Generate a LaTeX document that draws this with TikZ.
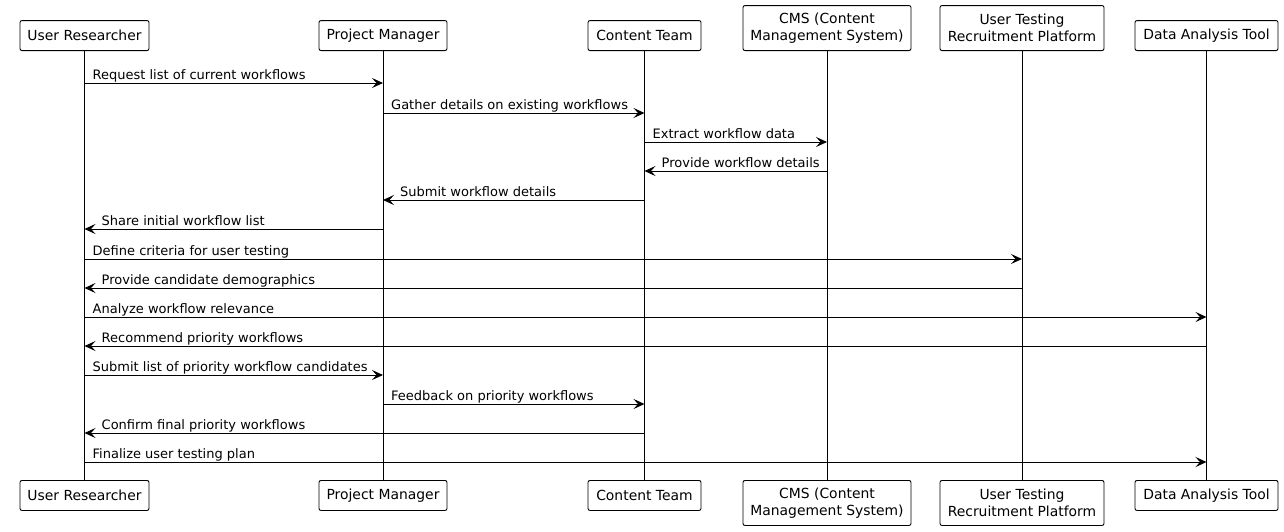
\documentclass[tikz,border=0pt]{standalone}
\usepackage{fontspec}
\setmainfont{DejaVu Sans}
\usetikzlibrary{arrows.meta}
\begin{document}
\begin{tikzpicture}[x=1pt,y=-1pt,
  part/.style={draw=black, line width=0.9pt, rounded corners=2pt, fill=white, inner sep=0pt,
    font=\fontsize{13.9}{17}\selectfont, align=center, minimum height=30pt},
  life/.style={draw=black, line width=0.9pt},
  msg/.style={draw=black, line width=0.9pt, -{Stealth[length=11pt,width=10pt,inset=4.5pt]}},
  lbl/.style={font=\fontsize{13}{15}\selectfont, inner sep=0pt}]
\useasboundingbox (0,0) rectangle (1284,531);
% top participants
\node[part, anchor=south, minimum width=129pt] (ur) at (84.5,51) {User Researcher};
\node[part, anchor=south, minimum width=128pt] (pm) at (383,51) {Project Manager};
\node[part, anchor=south, minimum width=113pt] (ct) at (644.5,51) {Content Team};
\node[part, anchor=south, minimum width=168pt, minimum height=45pt] (cms) at (827,51) {CMS (Content\\Management System)};
\node[part, anchor=south, minimum width=164pt, minimum height=45pt] (utrp) at (1022,51) {User Testing\\Recruitment Platform};
\node[part, anchor=south, minimum width=143pt] (dat) at (1206.5,51) {Data Analysis Tool};
% bottom participants
\node[part, anchor=north, minimum width=129pt] (urb) at (84.5,480) {User Researcher};
\node[part, anchor=north, minimum width=128pt] (pmb) at (383,480) {Project Manager};
\node[part, anchor=north, minimum width=113pt] (ctb) at (644.5,480) {Content Team};
\node[part, anchor=north, minimum width=168pt, minimum height=45pt] (cmsb) at (827,480) {CMS (Content\\Management System)};
\node[part, anchor=north, minimum width=164pt, minimum height=45pt] (utrpb) at (1022,480) {User Testing\\Recruitment Platform};
\node[part, anchor=north, minimum width=143pt] (datb) at (1206.5,480) {Data Analysis Tool};
% lifelines
\draw[life] (ur.south) -- (urb.north);
\draw[life] (pm.south) -- (pmb.north);
\draw[life] (ct.south) -- (ctb.north);
\draw[life] (cms.south) -- (cmsb.north);
\draw[life] (utrp.south) -- (utrpb.north);
\draw[life] (dat.south) -- (datb.north);
% messages: right-going labels at from+8, left-going at to+17
\draw[msg] (ur.south |- 0,83) -- (pm.south |- 0,83);
\node[lbl, anchor=base west] (m1) at ([xshift=8pt]ur.south |- 0,79) {Request list of current workflows};
\draw[msg] (pm.south |- 0,113) -- (ct.south |- 0,113);
\node[lbl, anchor=base west] (m2) at ([xshift=8pt]pm.south |- 0,109) {Gather details on existing workflows};
\draw[msg] (ct.south |- 0,142) -- (cms.south |- 0,142);
\node[lbl, anchor=base west] (m3) at ([xshift=8pt]ct.south |- 0,138) {Extract workflow data};
\draw[msg] (cms.south |- 0,171) -- (ct.south |- 0,171);
\node[lbl, anchor=base west] (m4) at ([xshift=17pt]ct.south |- 0,167) {Provide workflow details};
\draw[msg] (ct.south |- 0,200) -- (pm.south |- 0,200);
\node[lbl, anchor=base west] (m5) at ([xshift=17pt]pm.south |- 0,196) {Submit workflow details};
\draw[msg] (pm.south |- 0,229) -- (ur.south |- 0,229);
\node[lbl, anchor=base west] (m6) at ([xshift=17pt]ur.south |- 0,225) {Share initial workflow list};
\draw[msg] (ur.south |- 0,259) -- (utrp.south |- 0,259);
\node[lbl, anchor=base west] (m7) at ([xshift=8pt]ur.south |- 0,255) {Define criteria for user testing};
\draw[msg] (utrp.south |- 0,288) -- (ur.south |- 0,288);
\node[lbl, anchor=base west] (m8) at ([xshift=17pt]ur.south |- 0,284) {Provide candidate demographics};
\draw[msg] (ur.south |- 0,317) -- (dat.south |- 0,317);
\node[lbl, anchor=base west] (m9) at ([xshift=8pt]ur.south |- 0,313) {Analyze workflow relevance};
\draw[msg] (dat.south |- 0,346) -- (ur.south |- 0,346);
\node[lbl, anchor=base west] (m10) at ([xshift=17pt]ur.south |- 0,342) {Recommend priority workflows};
\draw[msg] (ur.south |- 0,375) -- (pm.south |- 0,375);
\node[lbl, anchor=base west] (m11) at ([xshift=8pt]ur.south |- 0,371) {Submit list of priority workflow candidates};
\draw[msg] (pm.south |- 0,404) -- (ct.south |- 0,404);
\node[lbl, anchor=base west] (m12) at ([xshift=8pt]pm.south |- 0,400) {Feedback on priority workflows};
\draw[msg] (ct.south |- 0,433) -- (ur.south |- 0,433);
\node[lbl, anchor=base west] (m13) at ([xshift=17pt]ur.south |- 0,429) {Confirm final priority workflows};
\draw[msg] (ur.south |- 0,462) -- (dat.south |- 0,462);
\node[lbl, anchor=base west] (m14) at ([xshift=8pt]ur.south |- 0,458) {Finalize user testing plan};
\end{tikzpicture}
\end{document}
